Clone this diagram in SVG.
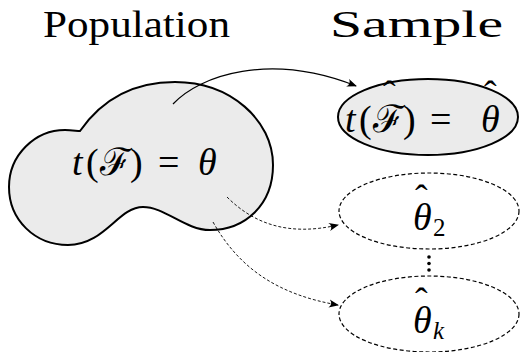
<svg xmlns="http://www.w3.org/2000/svg" width="520" height="352" viewBox="0 0 520 352">
<style>
.it{font-style:italic}
.shape{fill:#ebebeb;stroke:#000;stroke-width:2}
.dash{fill:none;stroke:#000;stroke-width:1.2;stroke-dasharray:4 2.5}
.conn{fill:none;stroke:#000;stroke-width:1.2}
.dconn{fill:none;stroke:#000;stroke-width:0.9;stroke-dasharray:3 2}
</style>
<defs>
<marker id="ah" viewBox="0 0 10 10" refX="9" refY="5" markerWidth="10" markerHeight="10" markerUnits="userSpaceOnUse" orient="auto">
<path d="M0,1 Q4,5 0,9 L10,5 Z" fill="#000"/>
</marker>
</defs>
<g font-family="Liberation Serif, serif">
<text x="43" y="37" font-size="38" textLength="187" lengthAdjust="spacingAndGlyphs">Population</text>
<text x="330" y="37" font-size="38" textLength="173" lengthAdjust="spacingAndGlyphs">Sample</text>
<g id="population">
<path class="shape" d="M80,131 C105,95 140,82 175,82 C230,82 273,120 273,165 C273,205 245,230 210,230 C185,230 165,207 143,207 C118,207 105,245 68,245 C35,245 9,220 9,187 C9,155 35,130 65,130 C72,130 77,131 80,131 Z"/>
<text x="72" y="175" font-size="38"><tspan class="it">t</tspan><tspan x="86">(</tspan><tspan x="100">ℱ</tspan><tspan x="130">)</tspan><tspan x="158">=</tspan><tspan x="198" class="it">θ</tspan></text>
</g>
<g id="sample1">
<ellipse class="shape" cx="428" cy="117" rx="90" ry="38"/>
<text x="345" y="132" font-size="38"><tspan class="it">t</tspan><tspan x="359">(</tspan><tspan x="373">ℱ</tspan><tspan x="383" y="107">ˆ</tspan><tspan x="403" y="132">)</tspan><tspan x="430">=</tspan><tspan x="481" class="it">θ</tspan><tspan x="484" y="107">ˆ</tspan></text>
</g>
<g id="sample2">
<ellipse class="dash" cx="429" cy="211" rx="90" ry="38"/>
<text x="413" y="230" font-size="38"><tspan class="it">θ</tspan><tspan x="415" y="211">ˆ</tspan><tspan x="433" y="236" font-size="25">2</tspan></text>
</g>
<g id="dots">
<circle cx="429" cy="257" r="1.8"/>
<circle cx="429" cy="263.5" r="1.8"/>
<circle cx="429" cy="270" r="1.8"/>
</g>
<g id="samplek">
<ellipse class="dash" cx="429" cy="314" rx="90" ry="38"/>
<text x="413" y="333" font-size="38"><tspan class="it">θ</tspan><tspan x="415" y="314">ˆ</tspan><tspan x="433" y="339" font-size="25" class="it">k</tspan></text>
</g>
</g>
<g id="connectors">
<path class="conn" d="M173,104 C200,75 270,52 356,86" marker-end="url(#ah)"/>
<path class="dconn" d="M227,197 C255,225 290,236 338,225" marker-end="url(#ah)"/>
<path class="dconn" d="M213,222 C240,270 280,295 338,305" marker-end="url(#ah)"/>
</g>
</svg>
